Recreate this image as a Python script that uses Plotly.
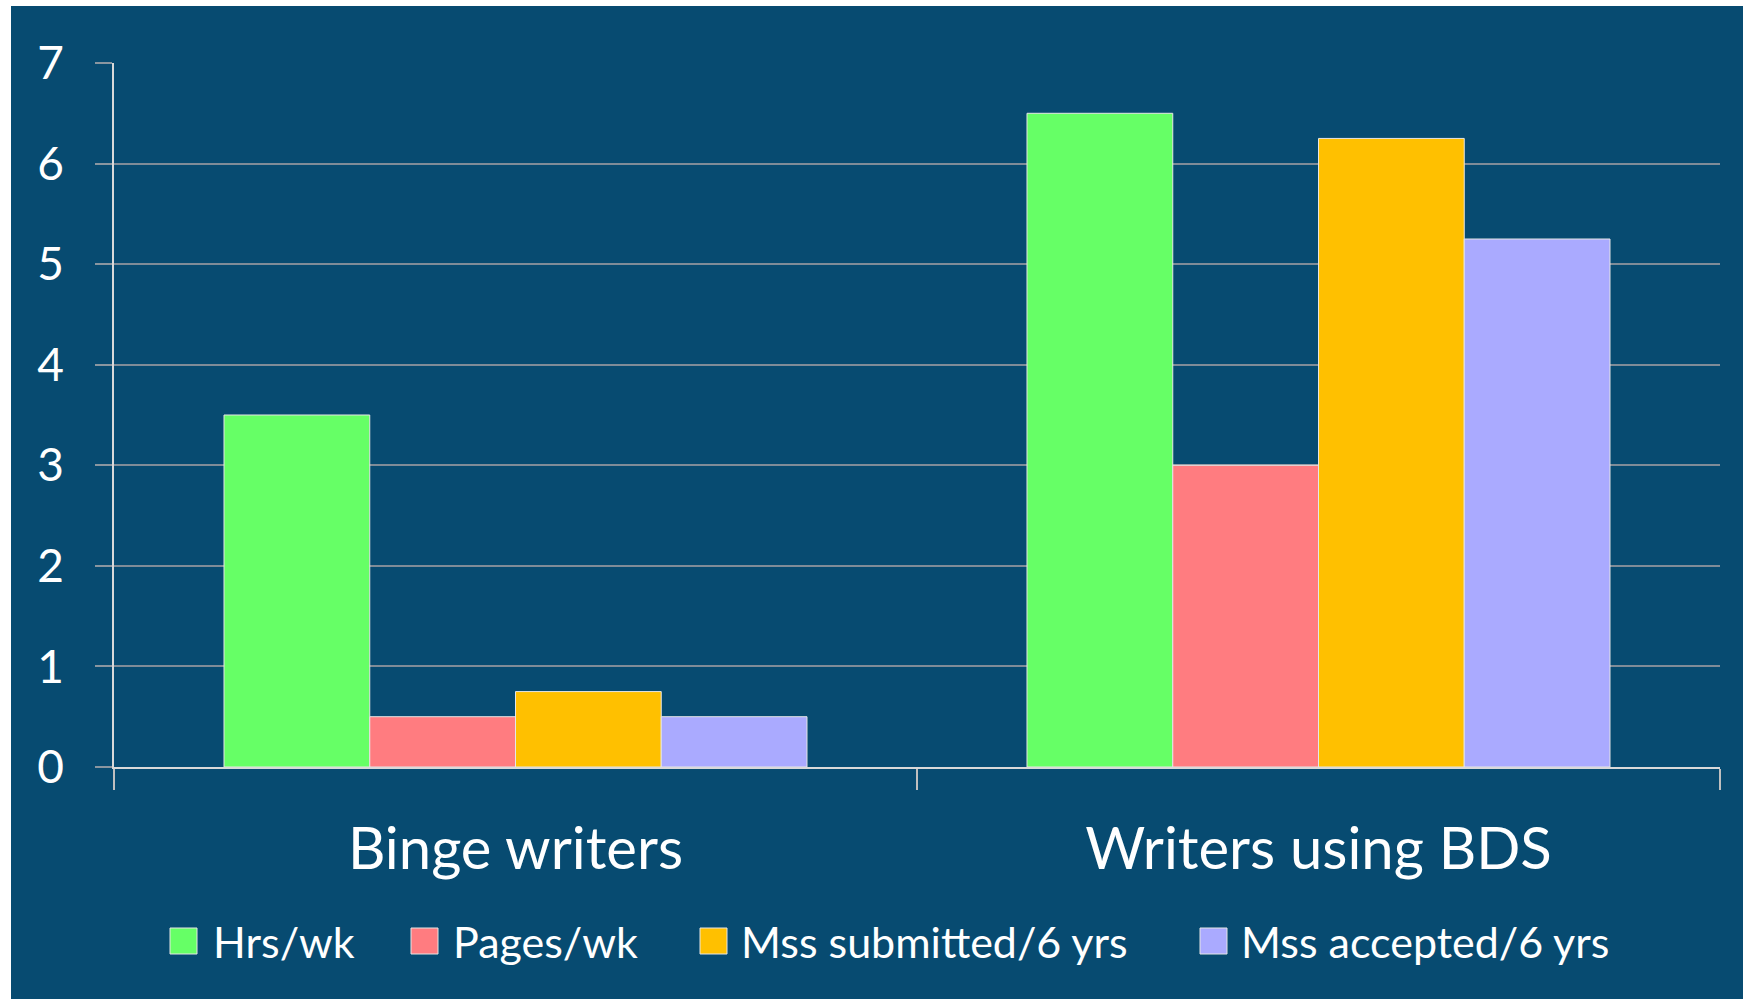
import plotly.graph_objects as go

categories = ["Binge writers", "Writers using BDS"]
series_names = ["Hrs/wk", "Pages/wk", "Mss submitted/6 yrs", "Mss accepted/6 yrs"]
hrs_wk = [3.5, 6.5]
pages_wk = [0.5, 3.0]
mss_submitted = [0.75, 6.25]
mss_accepted = [0.5, 5.25]
y_ticks = [0, 1, 2, 3, 4, 5, 6, 7]

values = [hrs_wk, pages_wk, mss_submitted, mss_accepted]
colors = ["#66FF66", "#FF7C80", "#FFC000", "#AAAAFF"]

W, H = 1743, 999
ML, MR, MT, MB = 114, 23, 63, 232
PW, PH = W - ML - MR, H - MT - MB
BG = "#074B71"
FONT = "Lato"


def px_x(px):
    return (px - ML) / PW


def px_y(py):
    return (H - MB - py) / PH


fig = go.Figure()
for name, vals, col in zip(series_names, values, colors):
    fig.add_trace(go.Bar(
        x=categories, y=vals, name=name,
        marker=dict(color=col, line=dict(color="#E6E6E6", width=1)),
        showlegend=False,
    ))

shapes = [
    dict(type="rect", xref="paper", yref="paper", layer="below",
         x0=px_x(11), x1=px_x(W + 5), y0=px_y(H + 5), y1=px_y(6),
         fillcolor=BG, line=dict(width=0)),
]
annotations = []
legend_sq = [170, 411, 700, 1200]
legend_tx = [211, 451, 739, 1239]
ly = 941
for name, col, sx, tx in zip(series_names, colors, legend_sq, legend_tx):
    shapes.append(dict(type="rect", xref="paper", yref="paper",
                       x0=px_x(sx), x1=px_x(sx + 27), y0=px_y(ly + 13), y1=px_y(ly - 13),
                       fillcolor=col, line=dict(color="#E6E6E6", width=1)))
    annotations.append(dict(xref="paper", yref="paper", x=px_x(tx), y=px_y(ly),
                            xanchor="left", yanchor="middle", showarrow=False,
                            text=name, font=dict(family=FONT, size=43, color="white")))

fig.update_layout(
    width=W, height=H,
    margin=dict(l=ML, r=MR, t=MT, b=MB, pad=0),
    paper_bgcolor="white", plot_bgcolor=BG,
    barmode="group", bargap=0.274, bargroupgap=0,
    shapes=shapes, annotations=annotations,
    showlegend=False,
    xaxis=dict(
        showline=True, linecolor="#D9D9D9", linewidth=1.5,
        ticks="outside", tickson="boundaries", ticklen=21, tickcolor="#BFBFBF", tickwidth=1.5,
        showgrid=False, ticklabelstandoff=31,
        tickfont=dict(family=FONT, size=58, color="white"),
    ),
    yaxis=dict(
        range=[0, 7], tickvals=y_ticks, ticktext=[str(v) for v in y_ticks],
        showline=True, linecolor="#D9D9D9", linewidth=1.5,
        showgrid=True, gridcolor="#7F8C98", gridwidth=1.5,
        zeroline=False,
        ticks="outside", ticklen=17, tickcolor="#8A96A0", tickwidth=1.5,
        ticklabelstandoff=22,
        tickfont=dict(family=FONT, size=46, color="white"),
    ),
)

fig.write_html("out.html",
               config={"displayModeBar": False},
               post_script="document.body.style.margin='0';document.body.style.overflow='hidden';")
